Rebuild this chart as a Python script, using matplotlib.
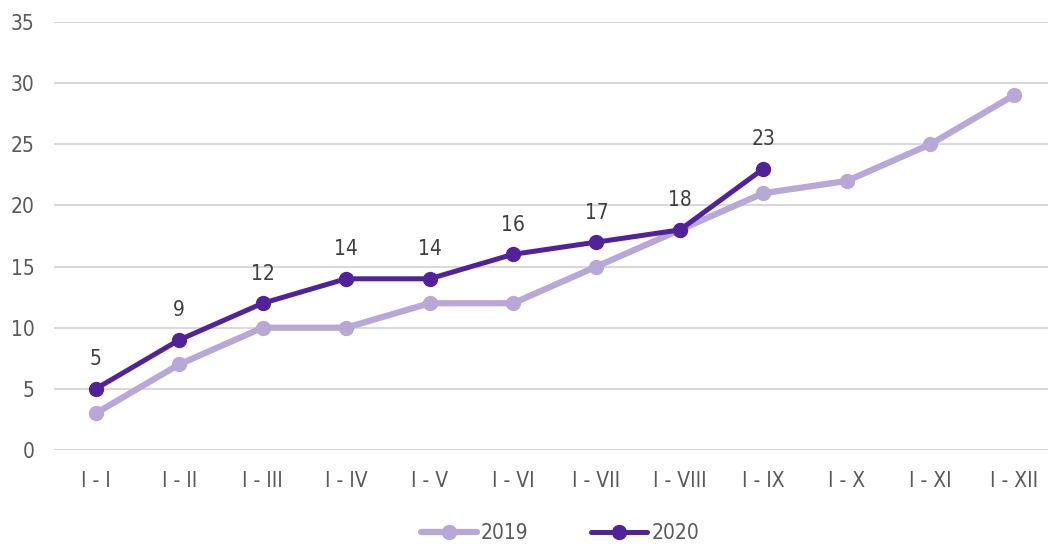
import matplotlib.pyplot as plt
from matplotlib import font_manager
from matplotlib.font_manager import FontProperties

categories = ['I - I', 'I - II', 'I - III', 'I - IV', 'I - V', 'I - VI',
              'I - VII', 'I - VIII', 'I - IX', 'I - X', 'I - XI', 'I - XII']
values_2019 = [3, 7, 10, 10, 12, 12, 15, 18, 21, 22, 25, 29]
values_2020 = [5, 9, 12, 14, 14, 16, 17, 18, 23]

LIGHT = '#B9A7D7'
DARK = '#52229A'
TEXT = '#595959'

# condensed DejaVu face is closest to the narrow font of the original
cond = [f.fname for f in font_manager.fontManager.ttflist
        if f.fname.endswith('DejaVuSansCondensed.ttf')]
if cond:
    fp = FontProperties(fname=cond[0], size=15)
else:
    fp = FontProperties(family='DejaVu Sans', size=14)

fig = plt.figure(figsize=(10.48, 5.44), dpi=100)
ax = fig.add_axes([54 / 1048, 94 / 544, 994 / 1048, 428 / 544])

x19 = range(len(values_2019))
x20 = range(len(values_2020))
ax.plot(x19, values_2019, color=LIGHT, lw=4.5, marker='o', ms=10,
        solid_capstyle='round', label='2019', zorder=3)
ax.plot(x20, values_2020, color=DARK, lw=3.6, marker='o', ms=10,
        solid_capstyle='round', label='2020', zorder=4)

for i, v in enumerate(values_2020):
    ax.annotate(str(v), (i, v), xytext=(0, 14), textcoords='offset points',
                ha='center', va='bottom', fontproperties=fp, color='#404040')

ax.set_xlim(-0.5, 11.41)
ax.set_ylim(0, 35)
ax.set_yticks(range(0, 36, 5))
ax.set_xticks(range(len(categories)))
ax.set_xticklabels(categories)
for lab in ax.get_xticklabels() + ax.get_yticklabels():
    lab.set_fontproperties(fp)
ax.tick_params(length=0, labelcolor=TEXT)
ax.tick_params(axis='x', pad=15)
ax.tick_params(axis='y', pad=14)
ax.grid(axis='y', color='#D9D9D9', lw=1.5)
ax.set_axisbelow(True)
for s in ax.spines.values():
    s.set_visible(False)

leg = ax.legend(loc='center', bbox_to_anchor=(0.509, -0.195),
                ncol=2, frameon=False, prop=fp, handlelength=2.7,
                columnspacing=3.0, handletextpad=0.2)
for t in leg.get_texts():
    t.set_color(TEXT)

fig.savefig('out.png', dpi=100)
